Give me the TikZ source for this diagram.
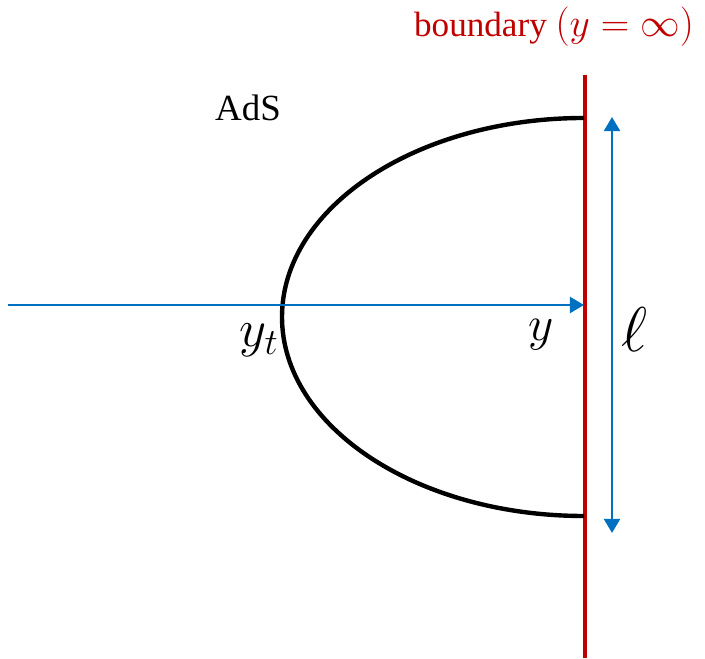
\documentclass[tikz,border=0pt]{standalone}
\usepackage{fix-cm}
\usepackage[no-math]{fontspec}
\setmainfont{Liberation Serif}
\usetikzlibrary{arrows.meta}
\definecolor{bdred}{RGB}{192,0,0}
\definecolor{axblue}{RGB}{0,112,192}
\tikzset{
  blueline/.style={draw=axblue,line width=1.6pt,-{Triangle[length=8pt,width=9pt]}},
}
\begin{document}
\begin{tikzpicture}[x=0.02cm,y=0.02cm]
\useasboundingbox (0,0) rectangle (705,658);
\coordinate (Btop) at (585,583);
\coordinate (Bbot) at (585,0);
\coordinate (Ctop) at (584,540);
\coordinate (Cbot) at (584,142);
\coordinate (Xin) at (8,353);
\coordinate (Xout) at (584,353);
\coordinate (Ltop) at (612,541);
\coordinate (Lbot) at (612,125);

% boundary
\draw[bdred,line width=2.7pt] (Btop)--(Bbot);
% geodesic
\draw[black,line width=2.5pt] (Ctop) arc[start angle=90,end angle=270,x radius=302,y radius=199];
% axis and width
\draw[blueline] (Xin)--(Xout);
\draw[blueline,{Triangle[length=8pt,width=9pt]}-{Triangle[length=8pt,width=9pt]}] (Ltop)--(Lbot);

\node[text=bdred,font=\fontsize{20}{22}\selectfont] (bdlabel) at (554,631) {boundary {\fontsize{22.5}{26}\selectfont$(y=\infty)$}};
\node[font=\fontsize{21}{24}\selectfont] (ads) at (248,550) {AdS};
\node[font=\fontsize{30}{34}\selectfont] (yt) at (259,318) {$y_t$};
\node[font=\fontsize{28}{32}\selectfont] (yy) at (541,323) {$y$};
\node[font=\fontsize{36}{42}\selectfont] (ell) at (634,328) {$\ell$};
\end{tikzpicture}
\end{document}
